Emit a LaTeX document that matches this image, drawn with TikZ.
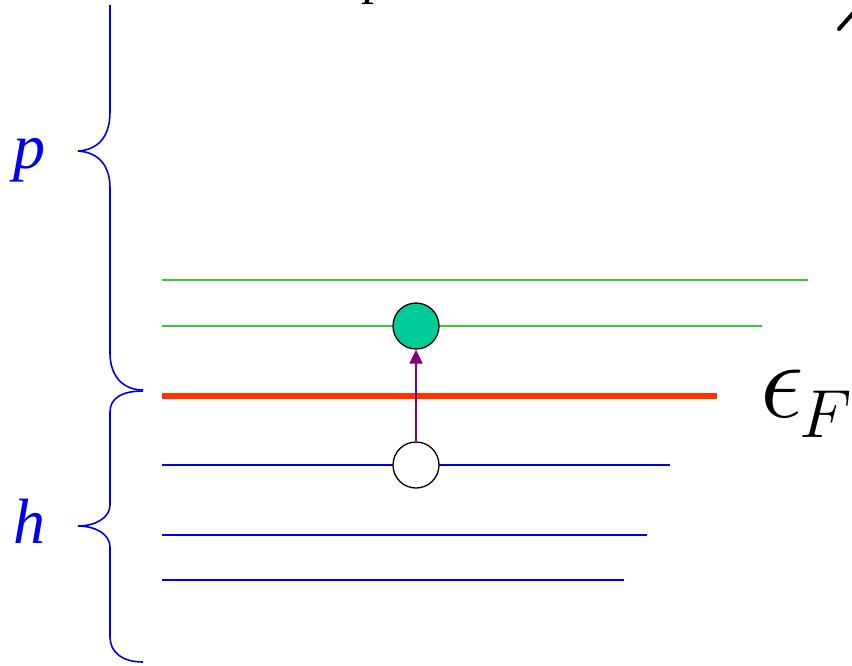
\documentclass[tikz,border=0pt]{standalone}
\usepackage{fix-cm}
\usepackage{fontspec}
\setmainfont{Liberation Serif}
\usetikzlibrary{arrows.meta}
\definecolor{lvgreen}{RGB}{50,205,50}
\definecolor{lvred}{RGB}{255,51,0}
\definecolor{lvblue}{RGB}{0,0,240}
\definecolor{lvteal}{RGB}{0,204,153}
\definecolor{lvpurple}{RGB}{128,0,128}
\tikzset{
  plevel/.style={draw=lvgreen, line width=1.4pt},
  hlevel/.style={draw=lvblue, line width=1.4pt},
  fermi/.style={draw=lvred, line width=6pt},
  bracestyle/.style={draw=lvblue, line width=1.6pt},
  occ/.style={circle, draw=black, line width=1.3pt, minimum size=46pt, inner sep=0pt},
  lbl/.style={text=lvblue, font=\fontsize{64}{64}\selectfont\itshape, inner sep=0pt},
}
\begin{document}
\begin{tikzpicture}[x=1pt,y=-1pt]
\useasboundingbox (0,0) rectangle (852,665);
\clip (0,0) rectangle (852,665);
% cut-off fragments at top
\node[anchor=base, inner sep=0pt, font=\fontsize{52}{52}\selectfont] (ptop) at (374,-7) {p};
\coordinate (sa) at (839,29);
\coordinate (sb) at (856,10);
\draw[line width=4pt, line cap=round] (sa) -- (sb);
% levels
\coordinate (g1l) at (162,280); \coordinate (g1r) at (808,280);
\coordinate (g2l) at (162,326); \coordinate (g2r) at (762,326);
\coordinate (fl) at (162,396); \coordinate (fr) at (717,396);
\coordinate (b1l) at (162,465); \coordinate (b1r) at (670,465);
\coordinate (b2l) at (162,535); \coordinate (b2r) at (647,535);
\coordinate (b3l) at (162,580); \coordinate (b3r) at (624,580);
\draw[plevel] (g1l) -- (g1r);
\draw[plevel] (g2l) -- (g2r);
\draw[fermi] (fl) -- (fr);
\draw[hlevel] (b1l) -- (b1r);
\draw[hlevel] (b2l) -- (b2r);
\draw[hlevel] (b3l) -- (b3r);
% particle and hole
\node[occ, fill=lvteal] (part) at (416,326) {};
\node[occ, fill=white] (hole) at (416,465) {};
\draw[lvpurple, line width=1.8pt, -{Triangle[length=14pt,width=13pt]}] (hole.north) -- (part.south);
% Fermi label
\node[anchor=base west, inner sep=0pt, font=\fontsize{110}{110}\selectfont] (eps) at (760,417) {$\epsilon$};
\node[anchor=base west, inner sep=0pt, font=\fontsize{68}{68}\selectfont] (fsub) at (799,437) {$F$};
% braces
\draw[bracestyle] (110,5) -- (110,112) .. controls (110,140) and (95,150) .. (78,151)
  .. controls (95,152) and (110,162) .. (110,188) -- (110,353)
  .. controls (110,375) and (122,390) .. (143,390);
\draw[bracestyle] (143,391) .. controls (122,391) and (110,398) .. (110,412) -- (110,505)
  .. controls (110,518) and (95,526) .. (78,526)
  .. controls (95,526) and (110,534) .. (110,547) -- (110,637)
  .. controls (110,652) and (122,662) .. (143,662);
\node[lbl, anchor=base] (plbl) at (29,168) {p};
\node[lbl, anchor=base] (hlbl) at (29,543) {h};
\end{tikzpicture}
\end{document}
